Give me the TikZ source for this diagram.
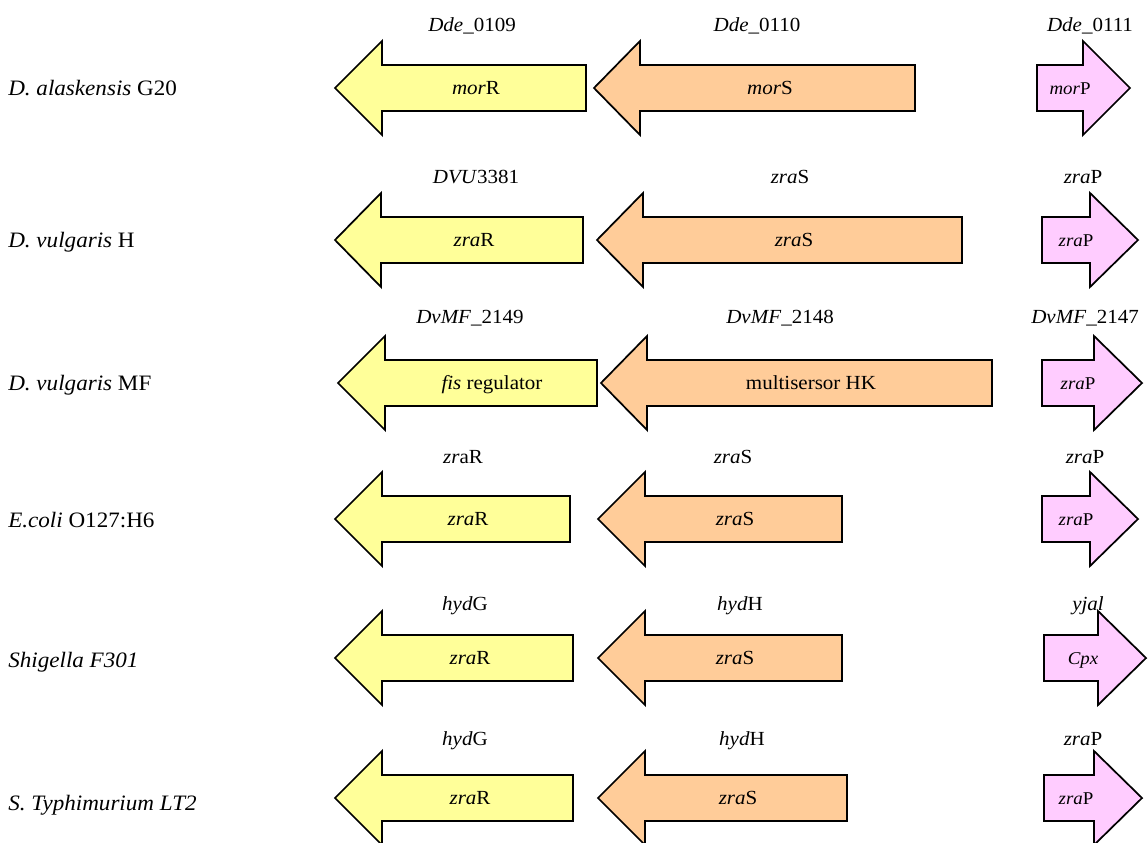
\documentclass[tikz,border=0pt]{standalone}
\usepackage{fontspec}
\setmainfont{Liberation Serif}[FakeStretch=1.05]
\definecolor{geneY}{HTML}{FFFF99}
\definecolor{geneO}{HTML}{FFCC99}
\definecolor{geneP}{HTML}{FFCCFF}
\tikzset{
  genebox/.style={draw=black, line width=1.3pt, line join=miter},
  txt/.style={font=\fontsize{15}{18}\selectfont, inner sep=0pt, anchor=base},
  smalltxt/.style={font=\fontsize{13.5}{16}\selectfont, inner sep=0pt, anchor=base},
  species/.style={font=\fontsize{16.5}{19}\selectfont, inner sep=0pt, anchor=base west},
}
% #1 name, #2 tip x, #3 neck x, #4 end x, #5 centre y, #6 fill, #7 text, #8 text x, #9 text style
\newcommand{\genearrow}[9]{%
  \draw[genebox, fill=#6] (#2,#5) -- (#3,#5-47) -- (#3,#5-23) -- (#4,#5-23)
     -- (#4,#5+23) -- (#3,#5+23) -- (#3,#5+47) -- cycle;
  \node[#9] (#1) at (#8,#5+6.5) {#7};
}
\newcommand{\genelabel}[4]{\node[txt] (#1) at (#2,#3+6.5) {#4};}
\begin{document}
\begin{tikzpicture}[x=0.75pt, y=-0.75pt]
\useasboundingbox (0,0) rectangle (1148,842);
\fill[white] (0,0) rectangle (1148,842);

% Row 1
\node[species] (sp1) at (8,95) {\textit{D. alaskensis} G20};
\genearrow{r1y}{335}{382}{586}{88}{geneY}{\textit{mor}R}{476}{txt}
\genearrow{r1o}{594}{640}{915}{88}{geneO}{\textit{mor}S}{770}{txt}
\genearrow{r1p}{1130}{1083}{1037}{88}{geneP}{\textit{mor}P}{1070}{smalltxt}
\genelabel{l1y}{472}{25}{\textit{Dde}\_0109}
\genelabel{l1o}{757}{25}{\textit{Dde}\_0110}
\genelabel{l1p}{1090}{25}{\textit{Dde}\_0111}

% Row 2
\node[species] (sp2) at (8,247) {\textit{D. vulgaris} H};
\genearrow{r2y}{335}{381}{583}{240}{geneY}{\textit{zra}R}{474}{txt}
\genearrow{r2o}{597}{643}{962}{240}{geneO}{\textit{zra}S}{794}{txt}
\genearrow{r2p}{1138}{1090}{1042}{240}{geneP}{\textit{zra}P}{1076}{smalltxt}
\genelabel{l2y}{476}{177}{\textit{DVU}3381}
\genelabel{l2o}{790}{177}{\textit{zra}S}
\genelabel{l2p}{1083}{177}{\textit{zra}P}

% Row 3
\node[species] (sp3) at (8,390) {\textit{D. vulgaris} MF};
\genearrow{r3y}{338}{385}{597}{383}{geneY}{\textit{fis} regulator}{492}{txt}
\genearrow{r3o}{601}{647}{992}{383}{geneO}{multisersor HK}{811}{txt}
\genearrow{r3p}{1142}{1094}{1042}{383}{geneP}{\textit{zra}P}{1078}{smalltxt}
\genelabel{l3y}{470}{317}{\textit{DvMF}\_2149}
\genelabel{l3o}{780}{317}{\textit{DvMF}\_2148}
\genelabel{l3p}{1085}{317}{\textit{DvMF}\_2147}

% Row 4
\node[species] (sp4) at (8,527) {\textit{E.coli} O127:H6};
\genearrow{r4y}{335}{382}{570}{519}{geneY}{\textit{zra}R}{468}{txt}
\genearrow{r4o}{598}{645}{842}{519}{geneO}{\textit{zra}S}{735}{txt}
\genearrow{r4p}{1138}{1090}{1042}{519}{geneP}{\textit{zra}P}{1076}{smalltxt}
\genelabel{l4y}{463}{457}{\textit{zr}aR}
\genelabel{l4o}{733}{457}{\textit{zra}S}
\genelabel{l4p}{1085}{457}{\textit{zra}P}

% Row 5
\node[species] (sp5) at (8,667) {\textit{Shigella F301}};
\genearrow{r5y}{335}{382}{573}{658}{geneY}{\textit{zra}R}{470}{txt}
\genearrow{r5o}{598}{645}{842}{658}{geneO}{\textit{zra}S}{735}{txt}
\genearrow{r5p}{1146}{1098}{1044}{658}{geneP}{\textit{Cpx}}{1083}{smalltxt}
\genelabel{l5y}{465}{604}{\textit{hyd}G}
\genelabel{l5o}{740}{604}{\textit{hyd}H}
\genelabel{l5p}{1088}{604}{\textit{yjal}}

% Row 6
\node[species] (sp6) at (8,810) {\textit{S. Typhimurium LT2}};
\genearrow{r6y}{335}{382}{573}{798}{geneY}{\textit{zra}R}{470}{txt}
\genearrow{r6o}{598}{645}{847}{798}{geneO}{\textit{zra}S}{738}{txt}
\genearrow{r6p}{1142}{1094}{1044}{798}{geneP}{\textit{zra}P}{1076}{smalltxt}
\genelabel{l6y}{465}{739}{\textit{hyd}G}
\genelabel{l6o}{742}{739}{\textit{hyd}H}
\genelabel{l6p}{1083}{739}{\textit{zra}P}
\end{tikzpicture}
\end{document}
